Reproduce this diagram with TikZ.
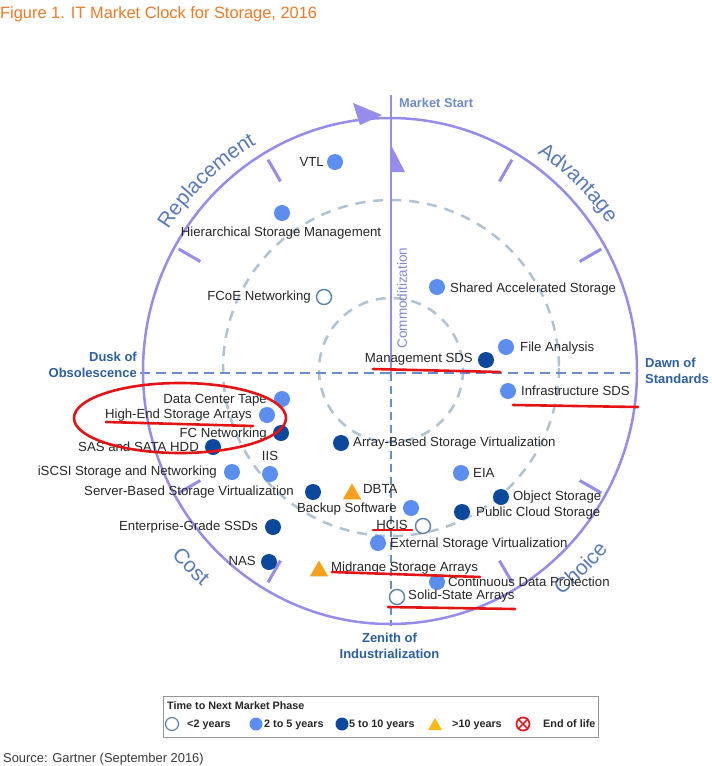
\documentclass[tikz,border=0pt]{standalone}
\usepackage{fontspec}
\setmainfont{Liberation Sans}
\usetikzlibrary{shapes.geometric,decorations.text,calc}
\definecolor{purp}{RGB}{150,140,235}
\definecolor{ltb}{RGB}{92,142,240}
\definecolor{dkb}{RGB}{12,72,155}
\definecolor{orng}{RGB}{245,160,30}
\definecolor{openc}{RGB}{90,130,175}
\definecolor{dashc}{RGB}{175,195,212}
\definecolor{axisc}{RGB}{105,140,205}
\definecolor{labc}{RGB}{40,40,40}
\definecolor{edgec}{RGB}{45,95,165}
\definecolor{startc}{RGB}{110,140,205}
\definecolor{phasec}{RGB}{90,122,192}
\definecolor{titlec}{RGB}{240,122,40}
\definecolor{annot}{RGB}{228,20,20}
\definecolor{commc}{RGB}{125,138,215}
\definecolor{legc}{RGB}{150,150,150}
\definecolor{srcc}{RGB}{60,60,60}
\definecolor{eolc}{RGB}{230,30,40}
\newcommand\phasefont{\color{phasec}\fontsize{21}{24}\selectfont}
\tikzset{
  lab/.style={font=\fontsize{13.2}{15}\selectfont, text=labc, inner sep=0pt, text height=9.45pt, text depth=0pt},
  edgelab/.style={font=\bfseries\fontsize{13}{16}\selectfont, text=edgec, inner sep=0pt},
  leglab/.style={font=\bfseries\fontsize{10.8}{12}\selectfont, text=labc, inner sep=0pt, text height=7.7pt, text depth=0pt, anchor=west},
  ldot/.style={circle, fill=ltb, minimum size=16pt, inner sep=0pt},
  ddot/.style={circle, fill=dkb, minimum size=16pt, inner sep=0pt},
  odot/.style={circle, draw=openc, line width=1.4pt, fill=white, minimum size=15pt, inner sep=0pt},
  tdot/.style={regular polygon, regular polygon sides=3, fill=orng, minimum size=21pt, inner sep=0pt},
  dashcirc/.style={draw=dashc, line width=2.5pt, dash pattern=on 10pt off 8pt},
  axisdash/.style={draw=axisc, line width=2pt, dash pattern=on 8pt off 5pt},
  tickmark/.style={draw=purp, line width=3pt},
  annotline/.style={draw=annot, line width=2.6pt, line cap=round},
}
\begin{document}
\begin{tikzpicture}[x=1pt,y=-1pt]
\useasboundingbox (0,0) rectangle (712,766);
\fill[white] (0,0) rectangle (712,766);
\coordinate (C) at (390,371);
% title
\node[anchor=west, inner sep=0pt, font=\fontsize{16.4}{18}\selectfont, text=titlec, text height=11.7pt, text depth=0pt] (title) at (0,12.5) {Figure 1. IT Market Clock for Storage, 2016};
% dashed circles
\draw[dashcirc] (391,368) circle[radius=168];
\draw[dashcirc] (391,370) circle[radius=72];
% axes
\coordinate (hl) at (140,373);
\coordinate (hr) at (637,373);
\draw[axisdash, dash pattern=on 10pt off 6pt] (hl) -- (hr);
\coordinate (vt) at (391,95);
\coordinate (vm) at (391,373);
\coordinate (vb) at (391,626);
\draw[draw=purp, line width=2.2pt] (vt) -- (vm);
\draw[axisdash] (vm) -- (vb);
% outer circle
\draw[draw=purp, line width=2.5pt] (C) ellipse[x radius=247, y radius=253];
\foreach \a in {30,60,120,150,-30,-60,-120,-150}
  \draw[tickmark] ($(C)+(\a:219)$) -- ($(C)+(\a:244)$);
\fill[purp] (353,103) -- (382,115) -- (360,125) -- cycle;
\fill[purp] (392,147) -- (392,172) -- (405,172) -- cycle;
% phase labels
\path[decorate, decoration={text along path, text={|\phasefont|Replacement}, text align=center}]
  ($(C)+(-155:263)$) arc[start angle=-155, end angle=-113, radius=263];
\path[decorate, decoration={text along path, text={|\phasefont|Advantage}, text align=center}]
  ($(C)+(-66:263)$) arc[start angle=-66, end angle=-24, radius=263];
\path[decorate, decoration={text along path, text={|\phasefont|Choice}, text align=center}]
  ($(C)+(66:282)$) arc[start angle=66, end angle=26, radius=282];
\path[decorate, decoration={text along path, text={|\phasefont|Cost}, text align=center}]
  ($(C)+(156:286)$) arc[start angle=156, end angle=115, radius=286];
% axis labels
\node[anchor=west, inner sep=0pt, font=\bfseries\fontsize{12.8}{15}\selectfont, text=startc, text height=9.2pt, text depth=0pt] (mstart) at (399,103) {Market Start};
\node[rotate=90, inner sep=0pt, font=\fontsize{13.5}{15}\selectfont, text=commc] (comm) at (402,298) {Commoditization};
\node[edgelab, align=right, anchor=east] (dusk) at (137,365) {Dusk of\\Obsolescence};
\node[edgelab, align=left, anchor=west] (dawn) at (645,371) {Dawn of\\Standards};
\node[edgelab, align=center, anchor=north] (zen) at (389.5,633) {Zenith of\\Industrialization};
% technologies
\node[ldot] (vtl) at (335,162) {};
\node[lab, anchor=east] (vtlL) at (324,162) {VTL};
\node[ldot] (hsm) at (282,213) {};
\node[lab] (hsmL) at (281,232) {Hierarchical Storage Management};
\node[odot] (fcoe) at (324,297) {};
\node[lab, anchor=east] (fcoeL) at (311,296) {FCoE Networking};
\node[ldot] (sas) at (437,287) {};
\node[lab, anchor=west] (sasL) at (450,288) {Shared Accelerated Storage};
\node[ddot] (msds) at (486,360) {};
\node[lab, anchor=east] (msdsL) at (473,358) {Management SDS};
\node[ldot] (fa) at (506,347) {};
\node[lab, anchor=west] (faL) at (520,347) {File Analysis};
\node[ldot] (isds) at (508,391) {};
\node[lab, anchor=west] (isdsL) at (521,391) {Infrastructure SDS};
\node[ddot] (absv) at (341,443) {};
\node[lab, anchor=west] (absvL) at (353,442) {Array-Based Storage Virtualization};
\node[ldot] (eia) at (461,473) {};
\node[lab, anchor=west] (eiaL) at (473,473) {EIA};
\node[ddot] (obj) at (501,497) {};
\node[lab, anchor=west] (objL) at (513,496) {Object Storage};
\node[ddot] (pcs) at (462,512) {};
\node[lab, anchor=west] (pcsL) at (476,512) {Public Cloud Storage};
\node[tdot] (dbta) at (352,494) {};
\node[lab, anchor=west] (dbtaL) at (363,489) {DBTA};
\node[ldot] (bks) at (411,508) {};
\node[lab, anchor=east] (bksL) at (397,508) {Backup Software};
\node[odot] (hcis) at (423,526) {};
\node[lab, anchor=east] (hcisL) at (408,525) {HCIS};
\node[ldot] (esv) at (378,543) {};
\node[lab, anchor=west] (esvL) at (390,543) {External Storage Virtualization};
\node[tdot] (mid) at (319,571) {};
\node[lab, anchor=west] (midL) at (331,567) {Midrange Storage Arrays};
\node[ldot] (cdp) at (437,582) {};
\node[lab, anchor=west] (cdpL) at (448,582) {Continuous Data Protection};
\node[odot] (ssa) at (397,597) {};
\node[lab, anchor=west] (ssaL) at (408,595) {Solid-State Arrays};
\node[ldot] (dct) at (282,399) {};
\node[lab, anchor=east] (dctL) at (267,399) {Data Center Tape};
\node[ldot] (hesa) at (267,415) {};
\node[lab, anchor=east] (hesaL) at (252,414) {High-End Storage Arrays};
\node[ddot] (fcn) at (281,433) {};
\node[lab, anchor=east] (fcnL) at (267,433) {FC Networking};
\node[ddot] (sata) at (213,447) {};
\node[lab, anchor=east] (sataL) at (199,447) {SAS and SATA HDD};
\node[ldot] (iis) at (270,474) {};
\node[lab] (iisL) at (270,456) {IIS};
\node[ldot] (iscsi) at (232,472) {};
\node[lab, anchor=east] (iscsiL) at (217,471) {iSCSI Storage and Networking};
\node[ddot] (sbsv) at (313,492) {};
\node[lab, anchor=east] (sbsvL) at (294,491) {Server-Based Storage Virtualization};
\node[ddot] (egs) at (273,527) {};
\node[lab, anchor=east] (egsL) at (258,526) {Enterprise-Grade SSDs};
\node[ddot] (nas) at (269,562) {};
\node[lab, anchor=east] (nasL) at (256,561) {NAS};
% red annotations
\draw[annotline] (180,418) ellipse[x radius=106, y radius=35];
\draw[annotline] (106,422) -- (253,426);
\draw[annotline] (373,369) -- (500,372);
\draw[annotline] (513,405) -- (638,407);
\draw[annotline] (373,530) -- (412,530);
\draw[annotline] (332,572) -- (480,577);
\draw[annotline] (388,607) -- (515,609);
% legend
\draw[draw=legc, line width=0.8pt] (163,696) rectangle (598,737);
\node[leglab] (legT) at (167,706) {Time to Next Market Phase};
\node[odot, minimum size=13pt, line width=1.2pt] (lg1) at (172,724) {};
\node[leglab] (lg1L) at (187,724) {<2 years};
\node[ldot, minimum size=13pt] (lg2) at (256,724) {};
\node[leglab] (lg2L) at (264,724) {2 to 5 years};
\node[ddot, minimum size=13pt] (lg3) at (342,724) {};
\node[leglab] (lg3L) at (349,724) {5 to 10 years};
\node[tdot, minimum size=16pt, fill={rgb,255:red,250;green,185;blue,20}] (lg4) at (435,726) {};
\node[leglab] (lg4L) at (452,724) {>10 years};
\node[circle, draw=eolc, line width=1.8pt, minimum size=13pt, inner sep=0pt] (lg5) at (523,724) {};
\draw[draw=eolc, line width=1.6pt] (lg5.north west) -- (lg5.south east) (lg5.north east) -- (lg5.south west);
\node[leglab] (lg5L) at (543,724) {End of life};
% source
\node[anchor=west, inner sep=0pt, font=\fontsize{12.9}{15}\selectfont, text=srcc, text height=9.2pt, text depth=0pt] (src) at (3,757.5) {Source: Gartner (September 2016)};
\end{tikzpicture}
\end{document}
